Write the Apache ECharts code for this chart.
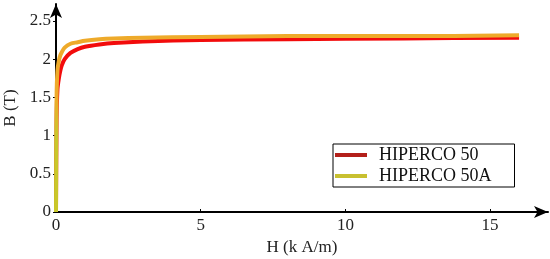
<!DOCTYPE html>
<html><head><meta charset="utf-8">
<script src="https://cdn.jsdelivr.net/npm/echarts@6/dist/echarts.min.js"></script>
<style>html,body{margin:0;padding:0;background:#fff}#c{width:550px;height:259px}</style>
</head><body><div id="c"></div>
<script>
var H = [0, 0.02, 0.05, 0.1, 0.15, 0.2, 0.3, 0.5, 0.75, 1, 1.5, 2, 3, 5, 8, 12, 16];
var B50 = [0, 1.2, 1.6, 1.75, 1.85, 1.92, 2.0, 2.08, 2.13, 2.16, 2.19, 2.21, 2.23, 2.25, 2.26, 2.27, 2.28];
var B50A = [0, 1.5, 1.85, 1.98, 2.05, 2.09, 2.15, 2.2, 2.22, 2.24, 2.26, 2.27, 2.28, 2.29, 2.30, 2.30, 2.31];
var seriesNames = ['HIPERCO 50', 'HIPERCO 50A'];
var xTicks = [0, 5, 10, 15];
var yTicks = [0, 0.5, 1, 1.5, 2, 2.5];

function pairs(xs, ys) { return xs.map(function (x, i) { return [x, ys[i]]; }); }
var font = 'Liberation Serif';
var chart = echarts.init(document.getElementById('c'));
chart.setOption({
  animation: false,
  grid: { left: 56, right: 2, top: 4, bottom: 47, containLabel: false, outerBoundsMode: 'none' },
  legend: {
    orient: 'vertical', left: 333, top: 144,
    backgroundColor: '#fff', borderColor: '#000', borderWidth: 1,
    padding: [2, 23, 2, 2], itemGap: 3, itemWidth: 32, itemHeight: 4,
    textStyle: { fontFamily: font, fontSize: 18, color: '#111', padding: [0, 0, 0, 7] },
    data: [
      { name: seriesNames[0], icon: 'rect', itemStyle: { color: '#b3201a' } },
      { name: seriesNames[1], icon: 'rect', itemStyle: { color: '#c8c030' } }
    ]
  },
  xAxis: {
    type: 'value', min: 0, max: 17,
    name: 'H (k A/m)', nameLocation: 'middle', nameGap: 26,
    nameTextStyle: { fontFamily: font, fontSize: 17, color: '#222' },
    axisLine: { lineStyle: { color: '#000', width: 2 }, symbol: ['none', 'arrow'], symbolSize: [9, 14] },
    axisTick: { show: true, inside: true, length: 3, lineStyle: { color: '#000' }, customValues: xTicks },
    axisLabel: { fontFamily: font, fontSize: 17, color: '#222', margin: 5, customValues: xTicks },
    splitLine: { show: false }
  },
  yAxis: {
    type: 'value', min: 0, max: 2.72,
    name: 'B (T)', nameLocation: 'middle', nameGap: 36,
    nameTextStyle: { fontFamily: font, fontSize: 17, color: '#222' },
    axisLine: { show: true, lineStyle: { color: '#000', width: 2 }, symbol: ['none', 'arrow'], symbolSize: [9, 14] },
    axisTick: { show: true, length: 3, lineStyle: { color: '#000' }, customValues: yTicks },
    axisLabel: { fontFamily: font, fontSize: 17, color: '#222', margin: 5, customValues: yTicks },
    splitLine: { show: false }
  },
  series: [
    { name: seriesNames[0], type: 'line', data: pairs(H, B50), showSymbol: false, smooth: 0.3,
      color: '#b3201a',
      lineStyle: { color: '#f20c0c', width: 4 } },
    { name: seriesNames[1], type: 'line', data: pairs(H, B50A), showSymbol: false, smooth: 0.3,
      color: '#c8c030',
      lineStyle: { width: 4, color: new echarts.graphic.LinearGradient(0, 0, 0, 1, [
        { offset: 0, color: '#eeaa2a' }, { offset: 0.35, color: '#eeaa2a' },
        { offset: 0.57, color: '#c9c72a' }, { offset: 1, color: '#c9c72a' }]) } }
  ]
});
</script></body></html>
